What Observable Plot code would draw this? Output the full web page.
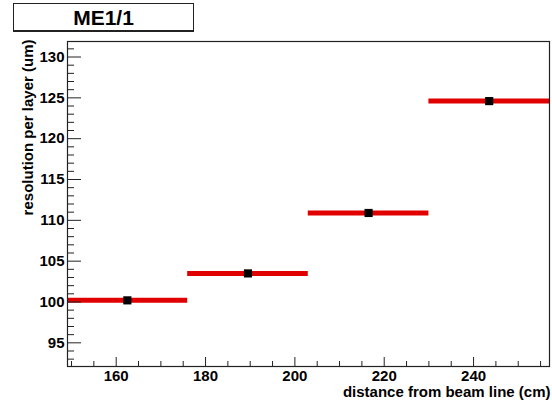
<!DOCTYPE html>
<html>
<head>
<meta charset="utf-8">
<script src="https://cdn.jsdelivr.net/npm/d3@7"></script>
<script src="https://cdn.jsdelivr.net/npm/@observablehq/plot@0.6"></script>
<style>
  html, body { margin: 0; padding: 0; background: #fff; }
  #wrap { position: relative; width: 552px; height: 404px; }
  #title {
    position: absolute; left: 13px; top: 3px; width: 179px; height: 26px;
    border: 1px solid #222; border-bottom-width: 2px; background: #fff;
    font-family: "Liberation Sans", Arial, sans-serif; font-weight: bold;
    font-size: 21px; line-height: 27px; text-align: center; color: #000;
  }
  #chart { position: absolute; left: 0; top: 0; }
</style>
</head>
<body>
<div id="wrap">
  <div id="chart"></div>
  <div id="title">ME1/1</div>
</div>
<script>
// Data
const binLow  = [149.1, 176, 203, 230];
const binHigh = [176, 203, 230, 257];
const centers = [162.5, 189.5, 216.5, 243.5];
const resolution = [100.2, 103.5, 110.9, 124.6];

const xMajorTicks = [160, 180, 200, 220, 240];
const xMinorTicks = [150, 155, 165, 170, 175, 185, 190, 195, 205, 210, 215, 225, 230, 235, 245, 250, 255];
const yMajorTicks = [95, 100, 105, 110, 115, 120, 125, 130];
const yMinorTicks = [93, 94, 96, 97, 98, 99, 101, 102, 103, 104, 106, 107, 108, 109, 111, 112, 113, 114,
                     116, 117, 118, 119, 121, 122, 123, 124, 126, 127, 128, 129, 131];

const xTitle = "distance from beam line (cm)";
const yTitle = "resolution per layer (um)";

const rows = centers.map((c, i) => ({lo: binLow[i], hi: binHigh[i], x: c, y: resolution[i]}));

const chart = Plot.plot({
  width: 552,
  height: 404,
  marginTop: 41,
  marginLeft: 67,
  marginRight: 3,
  marginBottom: 38,
  style: {fontFamily: "'Liberation Sans', Arial, sans-serif", fontSize: "15px", fontWeight: "bold", color: "#000", background: "#fff"},
  x: {domain: [149.1, 257]},
  y: {domain: [92.1, 131.9]},
  marks: [
    Plot.ruleY(rows, {x1: "lo", x2: "hi", y: "y", stroke: "#e00000", strokeWidth: 5}),
    Plot.dot(rows, {x: "x", y: "y", symbol: "square", r: 4.6, fill: "#000", stroke: null}),
    Plot.frame({stroke: "#222", strokeWidth: 1.2}),
    Plot.axisY(yMajorTicks, {tickSize: -14, tickFormat: () => "", label: null, stroke: "#222"}),
    Plot.axisY(yMinorTicks, {tickSize: -7, tickFormat: () => "", label: null, stroke: "#222"}),
    Plot.axisY(yMajorTicks, {tickSize: 0, tickPadding: 3, label: null, fill: "#000"}),
    Plot.axisX(xMajorTicks, {tickSize: -9, tickFormat: () => "", label: null, stroke: "#222"}),
    Plot.axisX(xMinorTicks, {tickSize: -5, tickFormat: () => "", label: null, stroke: "#222"}),
    Plot.axisX(xMajorTicks, {tickSize: 0, tickPadding: 4, label: null, fill: "#000"}),
    Plot.text([yTitle], {text: d => d, frameAnchor: "top-left", rotate: -90, textAnchor: "end", lineAnchor: "middle", dx: -39, dy: -2, fontSize: 15, fontWeight: "bold", fill: "#000"}),
    Plot.text([xTitle], {text: d => d, frameAnchor: "bottom-right", textAnchor: "end", lineAnchor: "middle", dx: 1, dy: 26, fontSize: 15, fontWeight: "bold", fill: "#000"})
  ]
});
document.getElementById("chart").appendChild(chart);
</script>
</body>
</html>
